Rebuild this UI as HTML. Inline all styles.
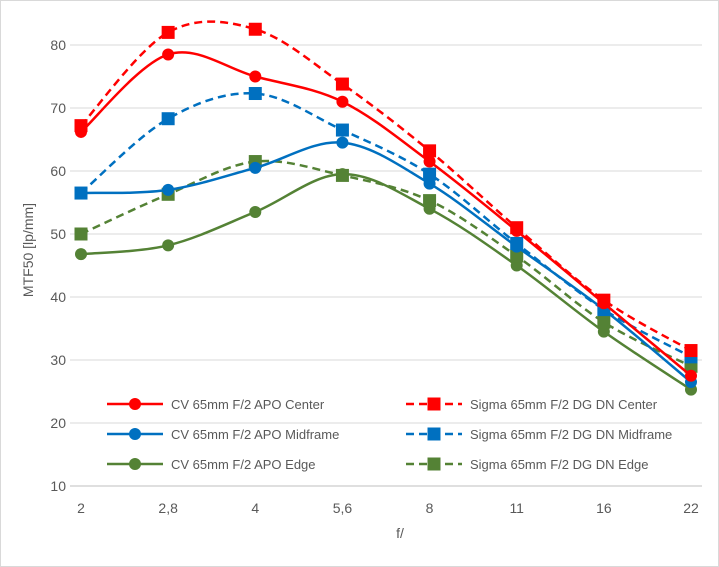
<!DOCTYPE html>
<html><head><meta charset="utf-8"><style>
body{margin:0;background:#fff;}
svg{display:block;font-family:"Liberation Sans",sans-serif;}
</style></head><body>
<svg id="chart" width="719" height="567">
<rect x="0.5" y="0.5" width="718" height="566" fill="#fff" stroke="#d9d9d9"/>
<g id="grid"></g><g id="series"></g><g id="legend"></g>
<text x="400" y="538" font-size="14" fill="#595959" text-anchor="middle">f/</text>
<text transform="translate(33,250) rotate(-90)" font-size="14" fill="#595959" text-anchor="middle">MTF50 [lp/mm]</text>
</svg>
<script>
const categories=["2","2,8","4","5,6","8","11","16","22"];
const yTicks=[10,20,30,40,50,60,70,80];
const cvCenter=[66.2,78.5,75,71,61.5,50.5,39,27.5];
const sigmaCenter=[67.2,82,82.5,73.8,63.2,51,39.5,31.5];
const cvMid=[56.5,57,60.5,64.5,58,48,38,26.5];
const sigmaMid=[56.5,68.3,72.3,66.5,59.5,48.5,38,30.5];
const cvEdge=[46.8,48.2,53.5,59.5,54,45,34.5,25.3];
const sigmaEdge=[50,56.3,61.5,59.3,55.3,46.5,36,29];
const seriesNames=["CV 65mm F/2 APO Center","Sigma 65mm F/2 DG DN Center","CV 65mm F/2 APO Midframe","Sigma 65mm F/2 DG DN Midframe","CV 65mm F/2 APO Edge","Sigma 65mm F/2 DG DN Edge"];

const NS="http://www.w3.org/2000/svg";
const X0=81,X1=691,Y10=486,PX=6.3;
const xs=i=>X0+i*(X1-X0)/(categories.length-1);
const ys=v=>Y10-(v-10)*PX;
function mk(t,a,p){const e=document.createElementNS(NS,t);for(const k in a)e.setAttribute(k,a[k]);p.appendChild(e);return e;}
const grid=document.getElementById('grid');
yTicks.forEach(v=>{
 const l=mk('line',{x1:70,x2:702,y1:ys(v),y2:ys(v),stroke:v===10?'#bfbfbf':'#d9d9d9'},grid);
 
 
 const t=mk('text',{x:66,y:ys(v)+5,'font-size':14,fill:'#595959','text-anchor':'end'},grid);
 t.textContent=v;
 
 
});
categories.forEach((c,i)=>{
 const t=mk('text',{x:xs(i),y:513,'font-size':14,fill:'#595959','text-anchor':'middle'},grid);
 t.textContent=c;
 
 
});
function smooth(pts){let d=`M${pts[0][0]},${pts[0][1]}`;
 for(let i=0;i<pts.length-1;i++){const p0=pts[Math.max(i-1,0)],p1=pts[i],p2=pts[i+1],p3=pts[Math.min(i+2,pts.length-1)];
  d+=` C${p1[0]+(p2[0]-p0[0])/6},${p1[1]+(p2[1]-p0[1])/6} ${p2[0]-(p3[0]-p1[0])/6},${p2[1]-(p3[1]-p1[1])/6} ${p2[0]},${p2[1]}`;}
 return d;}
const defs=[[cvCenter,'#ff0000',false],[sigmaCenter,'#ff0000',true],[cvMid,'#0070c0',false],[sigmaMid,'#0070c0',true],[cvEdge,'#548235',false],[sigmaEdge,'#548235',true]];
const sg=document.getElementById('series');
function marker(x,y,col,sq,p){
 if(sq) return mk('rect',{x:x-6.5,y:y-6.5,width:13,height:13,fill:col},p);
 return mk('circle',{cx:x,cy:y,r:6,fill:col},p);
}
const order=[4,5,2,3,0,1];
order.forEach(k=>{const [vals,col,dash]=defs[k];
 const g=mk('g',{},sg);
 
 
 const pts=vals.map((v,i)=>[xs(i),ys(v)]);
 const p=mk('path',{d:smooth(pts),fill:'none',stroke:col,'stroke-width':2.5,'stroke-dasharray':dash?'8 5':'none'},g);
 
 
 pts.forEach(q=>{const m=marker(q[0],q[1],col,dash,g);
  
  });
});
const lg=document.getElementById('legend');
defs.forEach((d,k)=>{const col=k%2,row=Math.floor(k/2);
 const lx=col?406:107,y=404+row*30;
 const g=mk('g',{},lg);
 
 
 mk('line',{x1:lx,x2:lx+56,y1:y,y2:y,stroke:d[1],'stroke-width':2.5,'stroke-dasharray':d[2]?'8 5':'none'},g);
 marker(lx+28,y,d[1],d[2],g);
 const t=mk('text',{x:lx+64,y:y+5,'font-size':13,fill:'#595959'},g);
 t.textContent=seriesNames[k];
});
</script>
</body></html>
